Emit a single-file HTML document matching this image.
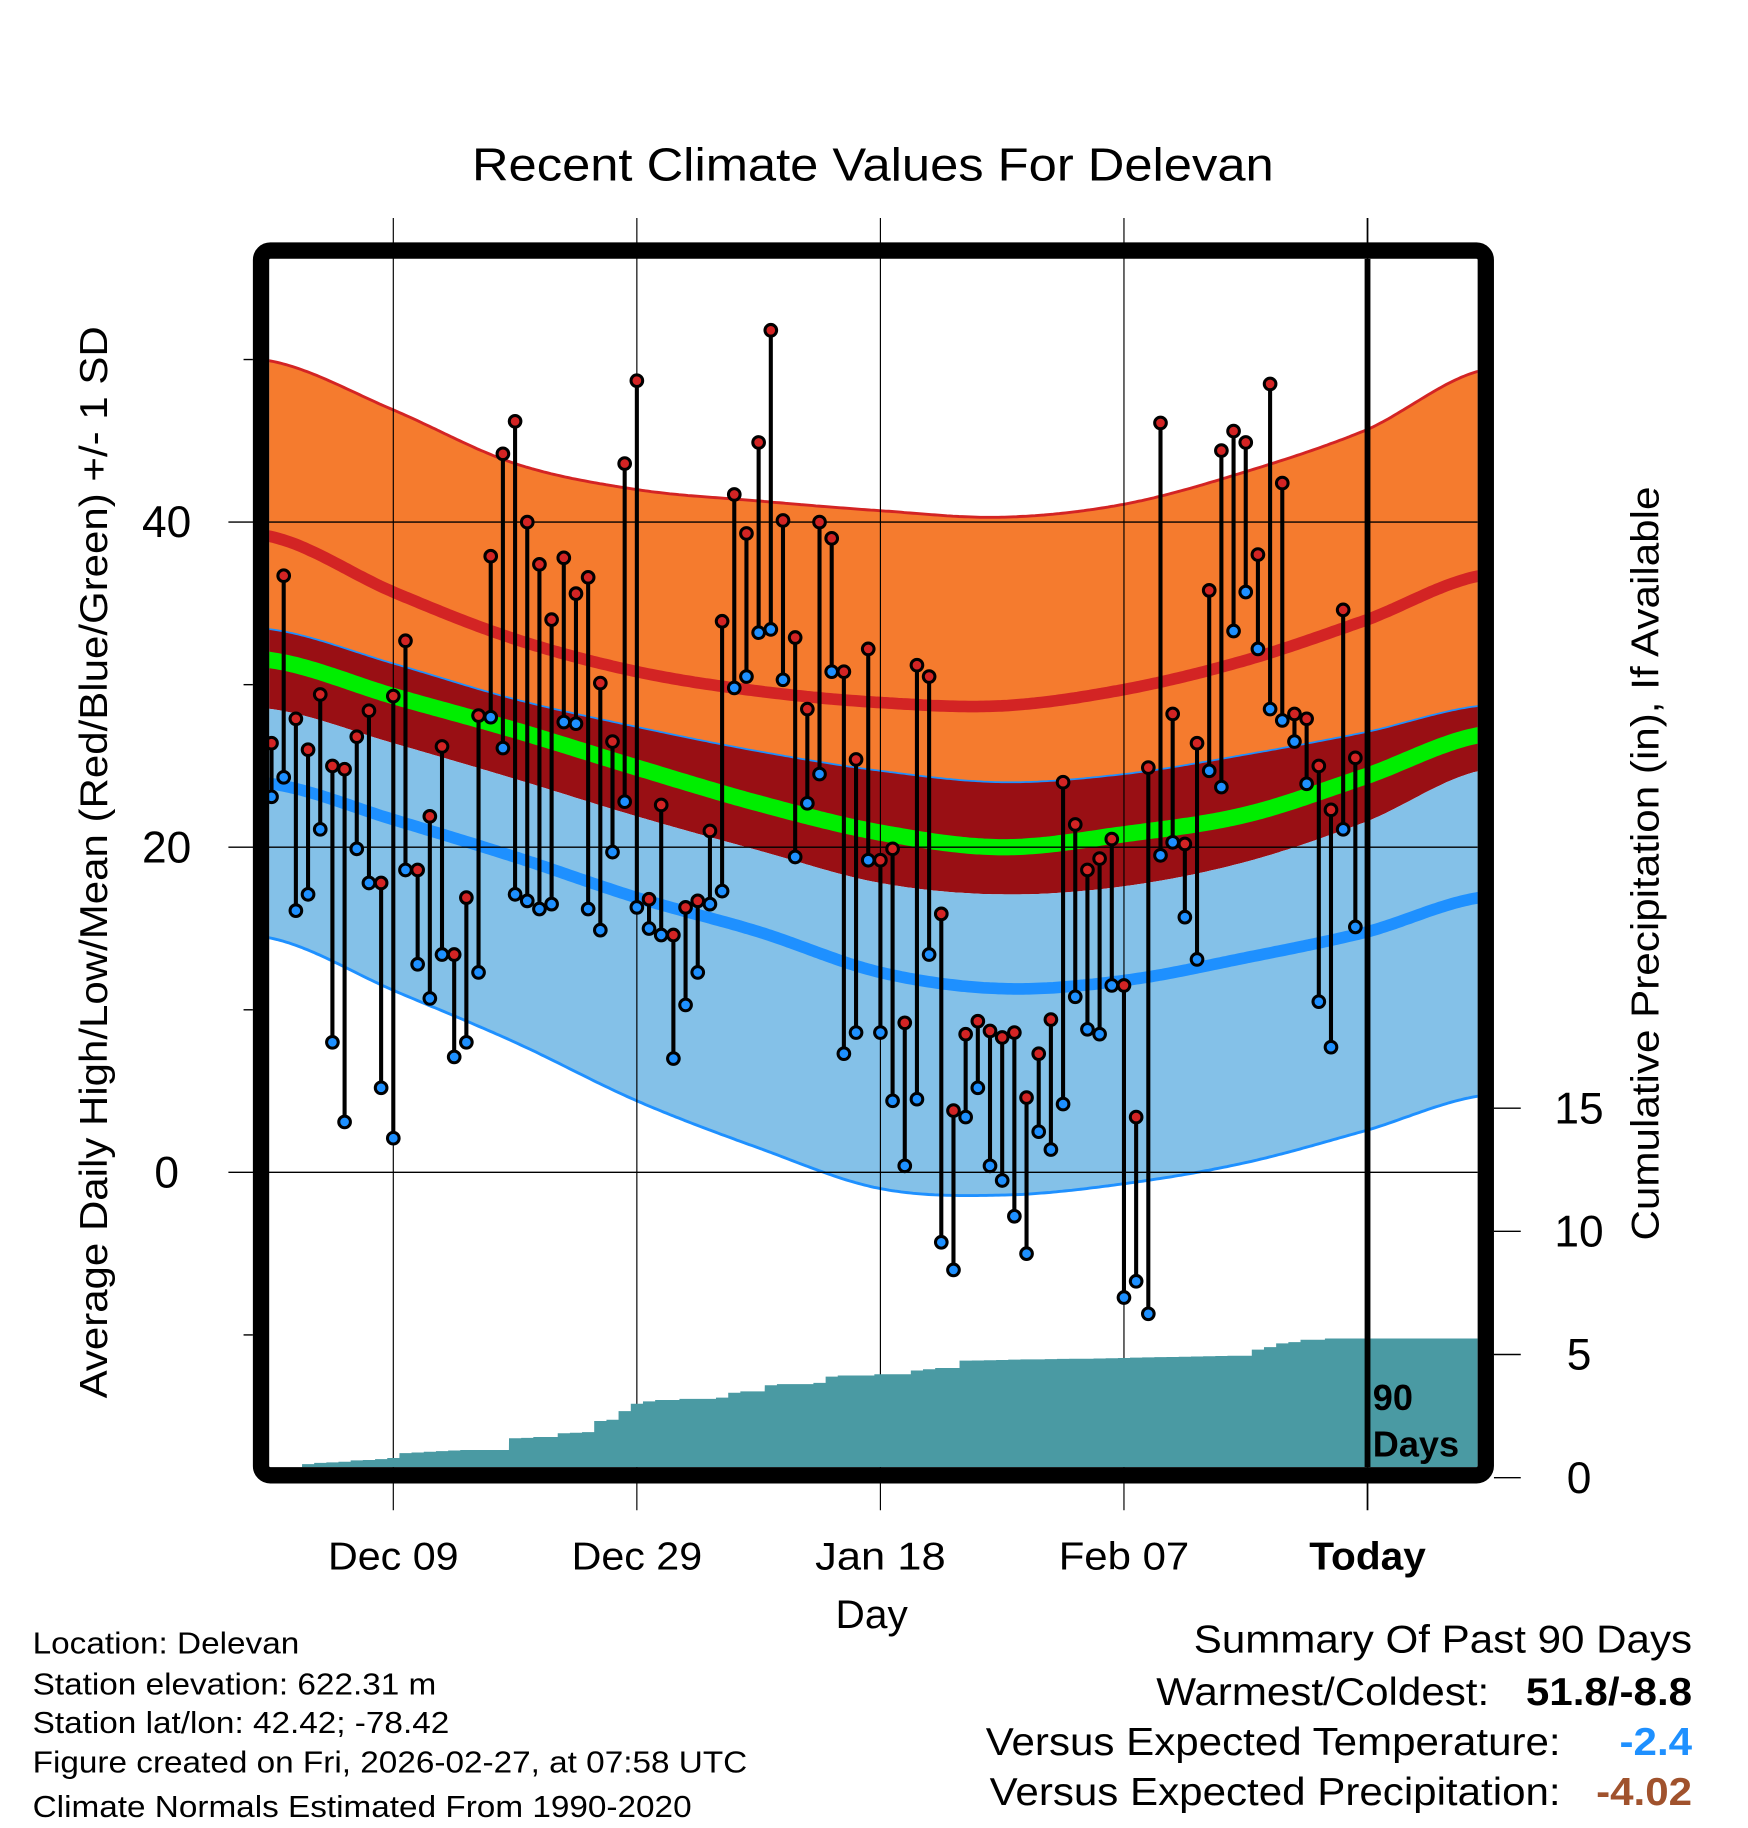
<!DOCTYPE html>
<html><head><meta charset="utf-8"><style>
html,body{margin:0;padding:0;background:#fff}
svg{display:block;font-family:"Liberation Sans",Arial,sans-serif}
</style></head><body>
<svg id="chart" width="1748" height="1828" viewBox="0 0 1500 1568.6" xmlns="http://www.w3.org/2000/svg">
<defs><clipPath id="plotclip"><rect x="231" y="222" width="1037" height="1037"/></clipPath></defs>
<rect width="1500" height="1568.6" fill="#fff"/>
<text x="749" y="155" font-size="40" text-anchor="middle" textLength="688" lengthAdjust="spacingAndGlyphs">Recent Climate Values For Delevan</text>
<g id="bands" clip-path="url(#plotclip)"></g>
<g id="grid"></g>
<g id="precip" clip-path="url(#plotclip)"></g>
<g id="marks"></g>
<g id="axes"></g>
<rect x="224" y="215" width="1051" height="1051" rx="8" fill="none" stroke="#000" stroke-width="14"/>
<text transform="translate(92,740) rotate(-90)" font-size="33" text-anchor="middle" textLength="920" lengthAdjust="spacingAndGlyphs">Average Daily High/Low/Mean (Red/Blue/Green) +/- 1 SD</text>
<text transform="translate(1423,741) rotate(-90)" font-size="33" text-anchor="middle" textLength="647" lengthAdjust="spacingAndGlyphs">Cumulative Precipitation (in), If Available</text>
<text x="748" y="1397" font-size="34" text-anchor="middle" textLength="62" lengthAdjust="spacingAndGlyphs">Day</text>
<text x="1178" y="1210" font-size="31" font-weight="bold">90</text>
<text x="1178" y="1250" font-size="31" font-weight="bold">Days</text>
<g font-size="26" transform="translate(28,0) scale(1.1,1) translate(-28,0)">
<text x="28" y="1419">Location: Delevan</text>
<text x="28" y="1454">Station elevation: 622.31 m</text>
<text x="28" y="1487">Station lat/lon: 42.42; -78.42</text>
<text x="28" y="1521">Figure created on Fri, 2026-02-27, at 07:58 UTC</text>
<text x="28" y="1559">Climate Normals Estimated From 1990-2020</text>
</g>
<g font-size="33" transform="translate(1452,0) scale(1.095,1) translate(-1452,0)">
<text x="1452" y="1418" text-anchor="end">Summary Of Past 90 Days</text>
<text x="1293" y="1463" text-anchor="end">Warmest/Coldest:</text>
<text x="1452" y="1463" text-anchor="end" font-weight="bold">51.8/-8.8</text>
<text x="1349" y="1506" text-anchor="end">Versus Expected Temperature:</text>
<text x="1452" y="1506" text-anchor="end" font-weight="bold" fill="#1e90ff">-2.4</text>
<text x="1349" y="1549" text-anchor="end">Versus Expected Precipitation:</text>
<text x="1452" y="1549" text-anchor="end" font-weight="bold" fill="#a0522d">-4.02</text>
</g>
</svg>
<script>
// ---- data ----
const highs = [26.4,36.7,27.9,26.0,29.4,25.0,24.8,26.8,28.4,17.8,29.3,32.7,18.6,21.9,26.2,13.4,16.9,28.1,37.9,44.2,46.2,40.0,37.4,34.0,37.8,35.6,36.6,30.1,26.5,43.6,48.7,16.8,22.6,14.6,16.3,16.7,21.0,33.9,41.7,39.3,44.9,51.8,40.1,32.9,28.5,40.0,39.0,30.8,25.4,32.2,19.2,19.9,9.2,31.2,30.5,15.9,3.8,8.5,9.3,8.7,8.3,8.6,4.6,7.3,9.4,24.0,21.4,18.6,19.3,20.5,11.5,3.4,24.9,46.1,28.2,20.2,26.4,35.8,44.4,45.6,44.9,38.0,48.5,42.4,28.2,27.9,25.0,22.3,34.6,25.5];
const lows = [23.1,24.3,16.1,17.1,21.1,8.0,3.1,19.9,17.8,5.2,2.1,18.6,12.8,10.7,13.4,7.1,8.0,12.3,28.0,26.1,17.1,16.7,16.2,16.5,27.7,27.6,16.2,14.9,19.7,22.8,16.3,15.0,14.6,7.0,10.3,12.3,16.5,17.3,29.8,30.5,33.2,33.4,30.3,19.4,22.7,24.5,30.8,7.3,8.6,19.2,8.6,4.4,0.4,4.5,13.4,-4.3,-6.0,3.4,5.2,0.4,-0.5,-2.7,-5.0,2.5,1.4,4.2,10.8,8.8,8.5,11.5,-7.7,-6.7,-8.7,19.5,20.3,15.7,13.1,24.7,23.7,33.3,35.7,32.2,28.5,27.8,26.5,23.9,10.5,7.7,21.1,15.1];
const precipCum = [0,0,0,0.55,0.6,0.62,0.65,0.7,0.72,0.75,0.8,1.0,1.02,1.05,1.08,1.1,1.12,1.12,1.12,1.12,1.6,1.62,1.65,1.65,1.8,1.82,1.85,2.3,2.35,2.7,3.0,3.1,3.15,3.15,3.2,3.2,3.2,3.25,3.45,3.5,3.5,3.75,3.8,3.8,3.8,3.85,4.1,4.15,4.15,4.15,4.2,4.2,4.2,4.35,4.4,4.45,4.45,4.75,4.76,4.77,4.78,4.79,4.8,4.8,4.81,4.82,4.83,4.83,4.84,4.85,4.86,4.87,4.88,4.89,4.9,4.91,4.92,4.93,4.94,4.95,4.95,5.2,5.3,5.45,5.5,5.6,5.6,5.65,5.65,5.65];
const normDays = [0,10,20,30,40,50,60,70,80,90,99.2];
const normHighPlusSD = [49.9,46.9,43.6,42.0,41.3,40.7,40.3,41.1,43.1,45.7,49.3];
const normHigh = [39.1,35.7,32.8,30.8,29.6,28.9,28.7,29.7,31.5,34.0,36.7];
const normMeanPlusSD = [33.4,31.3,29.1,27.4,25.9,24.7,24.0,24.5,25.7,27.1,28.7];
const normMean = [31.5,29.3,27.2,24.9,22.7,20.9,20.0,20.8,22.0,24.4,26.9];
const normMeanMinusSD = [28.5,26.4,24.2,21.9,19.8,17.8,17.1,17.6,19.1,21.6,24.7];
const normLow = [23.9,21.7,19.4,16.9,14.8,12.3,11.3,11.8,13.2,14.8,16.9];
const normLowMinusSD = [14.4,11.2,8.0,4.4,1.5,-1.0,-1.4,-0.7,0.6,2.6,4.7];
const dateLabels = ["Dec 09","Dec 29","Jan 18","Feb 07","Today"];
const dateDays = [10,30,50,70,90];
const yTicks = [40,20,0];
const yMinor = [50,30,10,-10];
const precipTicks = [0,5,10,15];

// ---- scales ----
const X = d => 233 + 10.45*d;
const Y = v => 1006 - 13.95*v;
const YP = p => 1268 - 21.14*p;
const NS = "http://www.w3.org/2000/svg";
function mk(tag, attrs, parent){const e=document.createElementNS(NS,tag);for(const k in attrs)e.setAttribute(k,attrs[k]);parent.appendChild(e);return e;}
function interp(arr, d){
  const n=normDays.length;let i=0;
  while(i<n-2 && d>normDays[i+1]) i++;
  const t=(d-normDays[i])/(normDays[i+1]-normDays[i]);
  const p0=arr[Math.max(i-1,0)],p1=arr[i],p2=arr[i+1],p3=arr[Math.min(i+2,n-1)];
  const t2=t*t,t3=t2*t;
  return 0.5*((2*p1)+(-p0+p2)*t+(2*p0-5*p1+4*p2-p3)*t2+(-p0+3*p1-3*p2+p3)*t3);
}
const samples=[];for(let d=-0.3;d<=99.25;d+=0.25)samples.push(d);
function line(arr){return samples.map((d,i)=>(i?'L':'M')+X(d).toFixed(1)+','+Y(interp(arr,d)).toFixed(1)).join('');}
function band(a,b){const top=samples.map((d,i)=>(i?'L':'M')+X(d).toFixed(1)+','+Y(interp(a,d)).toFixed(1)).join('');
  const bot=samples.slice().reverse().map(d=>'L'+X(d).toFixed(1)+','+Y(interp(b,d)).toFixed(1)).join('');return top+bot+'Z';}

const bands=document.getElementById('bands');
let e;
e=mk('path',{d:band(normHighPlusSD,normMeanPlusSD),fill:'#f57b2e'},bands);


e=mk('path',{d:band(normMeanPlusSD,normMeanMinusSD),fill:'#990f14'},bands);


e=mk('path',{d:band(normMeanMinusSD,normLowMinusSD),fill:'#84c1e8'},bands);


e=mk('path',{d:line(normHighPlusSD),fill:'none',stroke:'#d32424','stroke-width':2.5},bands);


e=mk('path',{d:line(normHigh),fill:'none',stroke:'#d32424','stroke-width':10},bands);


e=mk('path',{d:line(normMeanPlusSD),fill:'none',stroke:'#1e90ff','stroke-width':1.5},bands);


e=mk('path',{d:line(normMean),fill:'none',stroke:'#00ee00','stroke-width':14},bands);


e=mk('path',{d:line(normLow),fill:'none',stroke:'#1e90ff','stroke-width':10},bands);


e=mk('path',{d:line(normLowMinusSD),fill:'none',stroke:'#1e90ff','stroke-width':2.5},bands);



// grid
const grid=document.getElementById('grid');
yTicks.forEach(v=>{
  const g=mk('line',{x1:196,x2:1268,y1:Y(v),y2:Y(v),stroke:'#000','stroke-width':1.2},grid);
  
  
  const t=mk('text',{x:143,y:Y(v)+13,'font-size':38,'text-anchor':'middle'},grid);t.textContent=v;
  
  
});
yMinor.forEach(v=>{
  const g=mk('line',{x1:209,x2:217,y1:Y(v),y2:Y(v),stroke:'#000','stroke-width':1.2},grid);
  
  
});
dateDays.forEach((d,i)=>{
  const today=i===dateDays.length-1;
  const g=mk('line',{x1:X(d),x2:X(d),y1:187,y2:1296,stroke:'#000','stroke-width':today?1.5:1},grid);
  
  
  const t=mk('text',{x:X(d),y:1347,'font-size':33,'text-anchor':'middle',textLength:today?100:112,lengthAdjust:'spacingAndGlyphs'},grid);t.textContent=dateLabels[i];
  if(today)t.setAttribute('font-weight','bold');
  
  
});

// precipitation
const pg=document.getElementById('precip');
let pd='M'+X(-0.3)+','+YP(0);
precipCum.forEach((p,i)=>{pd+='L'+(X(i)-5.2).toFixed(1)+','+YP(p).toFixed(1)+'L'+(X(i)+5.2).toFixed(1)+','+YP(p).toFixed(1);});
pd+='L'+X(99.3)+','+YP(precipCum[precipCum.length-1]).toFixed(1)+'L'+X(99.3)+','+YP(0)+'Z';
e=mk('path',{d:pd,fill:'#4a9aa3'},pg);


e=mk('line',{x1:X(90),x2:X(90),y1:222,y2:1259,stroke:'#000','stroke-width':5},pg);



// right axis
const ax=document.getElementById('axes');
precipTicks.forEach(p=>{
  const l=mk('line',{x1:1282,x2:1305,y1:YP(p),y2:YP(p),stroke:'#000','stroke-width':1.2},ax);
  
  
  const t=mk('text',{x:1355,y:YP(p)+13,'font-size':38,'text-anchor':'middle'},ax);t.textContent=p;
  
  
});

// daily marks
const mg=document.getElementById('marks');
highs.forEach((h,i)=>{
  const lo=lows[i],x=X(i);
  const s=mk('line',{x1:x,x2:x,y1:Y(h),y2:Y(lo),stroke:'#000','stroke-width':3.5},mg);
  
  
  const c1=mk('circle',{cx:x,cy:Y(lo),r:5,fill:'#1e90ff',stroke:'#000','stroke-width':2.6},mg);
  
  
  const c2=mk('circle',{cx:x,cy:Y(h),r:5,fill:'#d32424',stroke:'#000','stroke-width':2.6},mg);
  
  
});
</script>
</body></html>
